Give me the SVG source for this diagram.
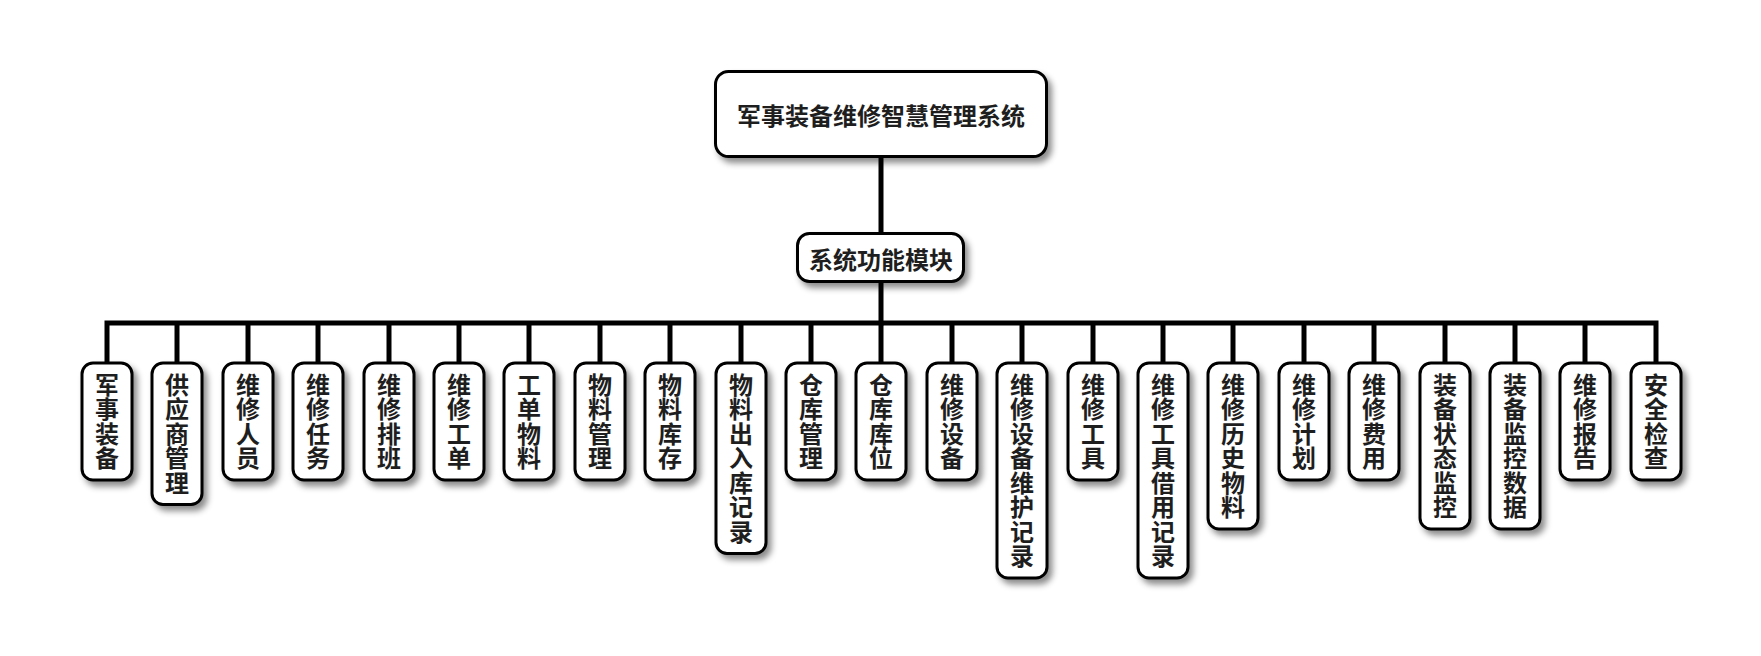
<svg xmlns="http://www.w3.org/2000/svg" width="1761" height="656" viewBox="0 0 1761 656">
<style>
.box{fill:#fff;stroke:#000;stroke-width:3;filter:url(#sh)}
.t{font-family:"Noto Sans CJK SC","Noto Sans CJK JP",sans-serif;font-weight:bold;font-size:24px;fill:#1e1e1e;text-anchor:middle;dominant-baseline:central}
.v{font-family:"Noto Sans CJK SC","Noto Sans CJK JP",sans-serif;font-weight:bold;font-size:24px;fill:#1e1e1e;text-anchor:middle;writing-mode:vertical-rl;letter-spacing:0.5px}
.c{fill:none;stroke:#000;stroke-width:5;stroke-linejoin:miter}
</style>
<defs>
<filter id="sh" x="-30%" y="-30%" width="160%" height="160%">
<feDropShadow dx="4" dy="5" stdDeviation="3" flood-color="#000" flood-opacity="0.45"/>
</filter>
</defs>
<rect width="1761" height="656" fill="#fff"/>
<g id="connectors">
<path class="c" d="M881 158 V232"/>
<path class="c" d="M881 283 V323 H107 V362"/>
<path class="c" d="M177 323 V362"/>
<path class="c" d="M248 323 V362"/>
<path class="c" d="M318 323 V362"/>
<path class="c" d="M389 323 V362"/>
<path class="c" d="M459 323 V362"/>
<path class="c" d="M529 323 V362"/>
<path class="c" d="M600 323 V362"/>
<path class="c" d="M670 323 V362"/>
<path class="c" d="M741 323 V362"/>
<path class="c" d="M811 323 V362"/>
<path class="c" d="M881 323 V362"/>
<path class="c" d="M952 323 V362"/>
<path class="c" d="M1022 323 V362"/>
<path class="c" d="M1093 323 V362"/>
<path class="c" d="M1163 323 V362"/>
<path class="c" d="M1233 323 V362"/>
<path class="c" d="M1304 323 V362"/>
<path class="c" d="M1374 323 V362"/>
<path class="c" d="M1445 323 V362"/>
<path class="c" d="M1515 323 V362"/>
<path class="c" d="M1585 323 V362"/>
<path class="c" d="M881 323 H1656 V362"/>
</g>
<g id="root"><rect class="box" x="715.5" y="71.5" width="331" height="85" rx="13"/><text class="t" x="881" y="114">军事装备维修智慧管理系统</text></g>
<g id="module"><rect class="box" x="797.5" y="233.5" width="166" height="48" rx="12"/><text class="t" x="881" y="258">系统功能模块</text></g>
<g id="n0"><rect class="box" x="82" y="363" width="50" height="117" rx="11"/><text class="v" x="107" y="421.5">军事装备</text></g>
<g id="n1"><rect class="box" x="152" y="363" width="50" height="141.5" rx="11"/><text class="v" x="177" y="433.75">供应商管理</text></g>
<g id="n2"><rect class="box" x="223" y="363" width="50" height="117" rx="11"/><text class="v" x="248" y="421.5">维修人员</text></g>
<g id="n3"><rect class="box" x="293" y="363" width="50" height="117" rx="11"/><text class="v" x="318" y="421.5">维修任务</text></g>
<g id="n4"><rect class="box" x="364" y="363" width="50" height="117" rx="11"/><text class="v" x="389" y="421.5">维修排班</text></g>
<g id="n5"><rect class="box" x="434" y="363" width="50" height="117" rx="11"/><text class="v" x="459" y="421.5">维修工单</text></g>
<g id="n6"><rect class="box" x="504" y="363" width="50" height="117" rx="11"/><text class="v" x="529" y="421.5">工单物料</text></g>
<g id="n7"><rect class="box" x="575" y="363" width="50" height="117" rx="11"/><text class="v" x="600" y="421.5">物料管理</text></g>
<g id="n8"><rect class="box" x="645" y="363" width="50" height="117" rx="11"/><text class="v" x="670" y="421.5">物料库存</text></g>
<g id="n9"><rect class="box" x="716" y="363" width="50" height="190.5" rx="11"/><text class="v" x="741" y="458.25">物料出入库记录</text></g>
<g id="n10"><rect class="box" x="786" y="363" width="50" height="117" rx="11"/><text class="v" x="811" y="421.5">仓库管理</text></g>
<g id="n11"><rect class="box" x="856" y="363" width="50" height="117" rx="11"/><text class="v" x="881" y="421.5">仓库库位</text></g>
<g id="n12"><rect class="box" x="927" y="363" width="50" height="117" rx="11"/><text class="v" x="952" y="421.5">维修设备</text></g>
<g id="n13"><rect class="box" x="997" y="363" width="50" height="215" rx="11"/><text class="v" x="1022" y="470.5">维修设备维护记录</text></g>
<g id="n14"><rect class="box" x="1068" y="363" width="50" height="117" rx="11"/><text class="v" x="1093" y="421.5">维修工具</text></g>
<g id="n15"><rect class="box" x="1138" y="363" width="50" height="215" rx="11"/><text class="v" x="1163" y="470.5">维修工具借用记录</text></g>
<g id="n16"><rect class="box" x="1208" y="363" width="50" height="166" rx="11"/><text class="v" x="1233" y="446">维修历史物料</text></g>
<g id="n17"><rect class="box" x="1279" y="363" width="50" height="117" rx="11"/><text class="v" x="1304" y="421.5">维修计划</text></g>
<g id="n18"><rect class="box" x="1349" y="363" width="50" height="117" rx="11"/><text class="v" x="1374" y="421.5">维修费用</text></g>
<g id="n19"><rect class="box" x="1420" y="363" width="50" height="166" rx="11"/><text class="v" x="1445" y="446">装备状态监控</text></g>
<g id="n20"><rect class="box" x="1490" y="363" width="50" height="166" rx="11"/><text class="v" x="1515" y="446">装备监控数据</text></g>
<g id="n21"><rect class="box" x="1560" y="363" width="50" height="117" rx="11"/><text class="v" x="1585" y="421.5">维修报告</text></g>
<g id="n22"><rect class="box" x="1631" y="363" width="50" height="117" rx="11"/><text class="v" x="1656" y="421.5">安全检查</text></g>
</svg>
